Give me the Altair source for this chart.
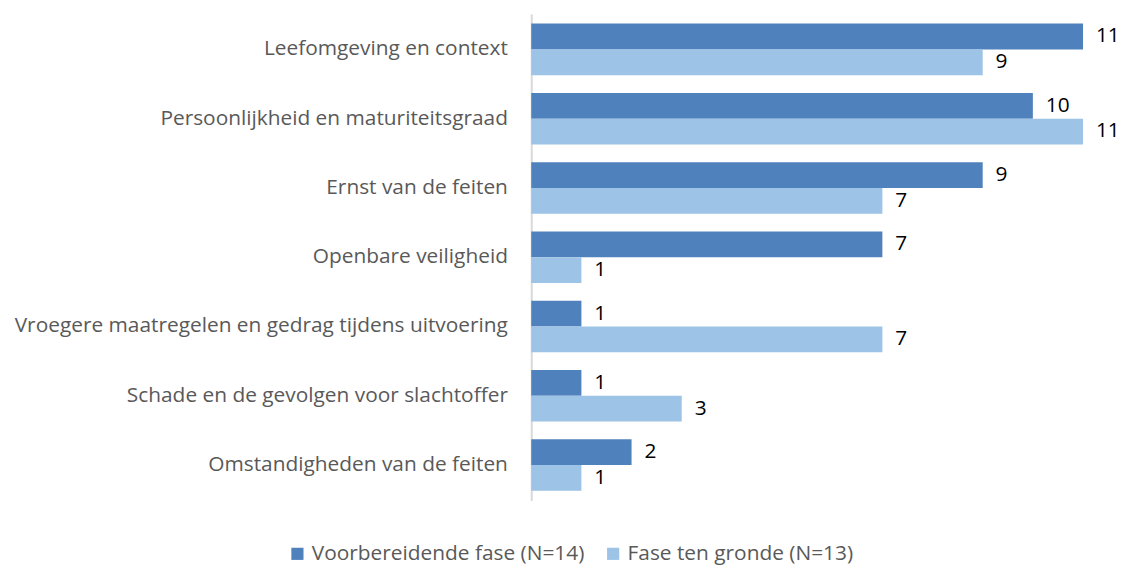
import altair as alt
import pandas as pd

categories = [
    "Leefomgeving en context",
    "Persoonlijkheid en maturiteitsgraad",
    "Ernst van de feiten",
    "Openbare veiligheid",
    "Vroegere maatregelen en gedrag tijdens uitvoering",
    "Schade en de gevolgen voor slachtoffer",
    "Omstandigheden van de feiten",
]
series = ["Voorbereidende fase (N=14)", "Fase ten gronde (N=13)"]
voorbereidend = [11, 10, 9, 7, 1, 1, 2]
ten_gronde = [9, 11, 7, 1, 7, 3, 1]
colors = ["#4F81BD", "#9DC3E6"]

rows = []
for c, a, b in zip(categories, voorbereidend, ten_gronde):
    rows.append({"cat": c, "series": series[0], "value": a})
    rows.append({"cat": c, "series": series[1], "value": b})
df = pd.DataFrame(rows)

FONT = "Open Sans"
FS = 21

y = alt.Y("cat:N", sort=categories, title=None,
          scale=alt.Scale(paddingInner=0.257, paddingOuter=0.14),
          axis=alt.Axis(ticks=False, labelFontSize=FS, labelColor="#595959",
                        labelFont=FONT, labelPadding=24, labelLimit=600,
                        domainColor="#D9D9D9", domainWidth=2))
yoff = alt.YOffset("series:N", sort=series, scale=alt.Scale(paddingInner=0, paddingOuter=0))
x = alt.X("value:Q", title=None, scale=alt.Scale(domain=[0, 11.48], nice=False),
          axis=None)

bars = alt.Chart(df).mark_bar(size=26).encode(
    x=x, y=y, yOffset=yoff,
    color=alt.Color("series:N", sort=series,
                    scale=alt.Scale(domain=series, range=colors),
                    legend=alt.Legend(title=None, orient="none", direction="horizontal",
                                      legendX=-246, legendY=533,
                                      symbolType="square", symbolSize=150,
                                      symbolStrokeWidth=0,
                                      labelFontSize=FS, labelFont=FONT,
                                      labelColor="#595959", columnPadding=18,
                                      labelLimit=400)),
)
labels = alt.Chart(df).mark_text(align="left", baseline="middle", dx=13,
                                 fontSize=FS, font=FONT, color="#000000").encode(
    x=x, y=y, yOffset=yoff, text="value:Q")

chart = (bars + labels).properties(
    width=580, height=490,
    autosize=alt.AutoSizeParams(type="none"),
    padding={"left": 527, "top": 4, "right": 14, "bottom": 63},
).configure_view(stroke=None)

chart.save("out.html", embed_options={"renderer": "svg", "actions": False})
